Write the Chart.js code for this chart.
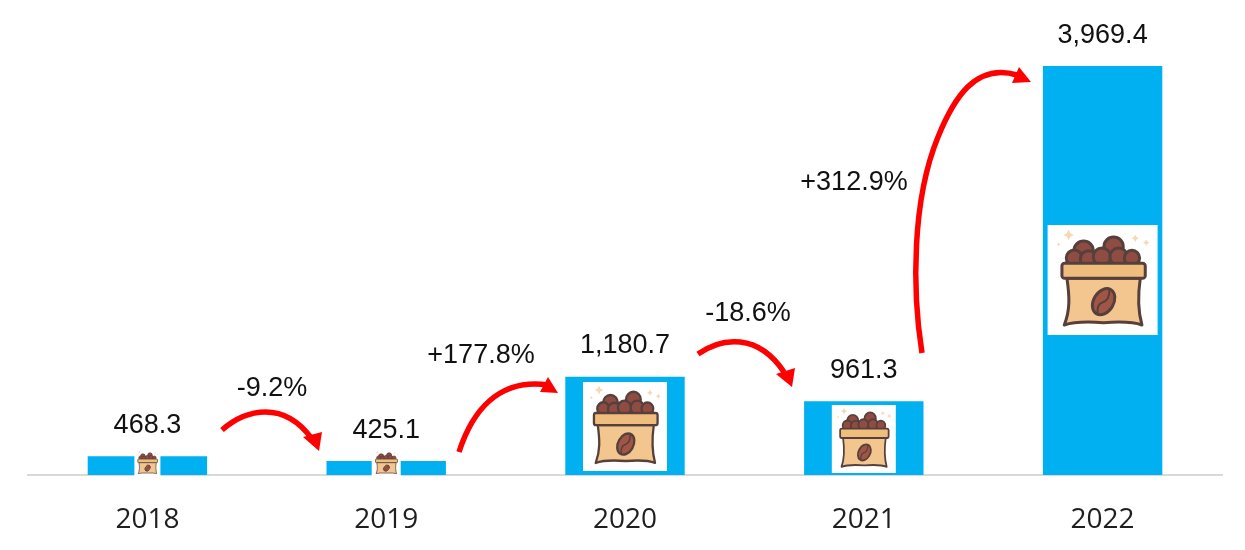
<!DOCTYPE html>
<html><head><meta charset="utf-8">
<style>html,body{margin:0;padding:0;background:#fff}#wrap{width:1245px;height:550px}</style>
<script src="https://cdn.jsdelivr.net/npm/chart.js@4"></script>
</head><body><div id="wrap"><canvas id="c" width="1245" height="550"></canvas></div>
<script>
const categories = ['2018','2019','2020','2021','2022'];
const values = [468.3,425.1,1180.7,961.3,3969.4];
const valueLabels = ['468.3','425.1','1,180.7','961.3','3,969.4'];
const changeLabels = ['-9.2%','+177.8%','-18.6%','+312.9%'];
const changeAnchors = [[272,389],[481,356],[748,314],[854,183]];
const iconBoxes = [[26,26,12],[29,26,12],[84,89,48.5],[64,68,36],[110,110,195]];
const arrowPaths = [
 {start:[222,430],curves:[[246,409,284,400,312,439]],head:[[303,437],[322,432],[319,451]]},
 {start:[459,452],curves:[[472,412,498,378,548,385]],head:[[548,377],[558,393],[540,392]]},
 {start:[698,354],curves:[[722,337,758,333,784,372]],head:[[776,374],[795,368],[792,387]]},
 {start:[922,353],curves:[[912,290,912,200,938,137],[953,100,975,62,1017,75]],head:[[1019,67],[1031,82],[1012,83]]}
];
function sack(g,x,y,w,h){
  g.save();g.fillStyle='#fff';g.fillRect(x,y,w,h);g.translate(x,y);g.scale(w/330,h/330);g.translate(-52,-45);
  g.lineJoin='round';const dark='#57403c';
  g.fillStyle='#f8d8b4';
  [[115,75,16],[315,85,11],[348,98,10],[85,103,6]].forEach(s=>{g.beginPath();
    g.moveTo(s[0],s[1]-s[2]);g.lineTo(s[0]+s[2]*.35,s[1]-s[2]*.35);g.lineTo(s[0]+s[2],s[1]);g.lineTo(s[0]+s[2]*.35,s[1]+s[2]*.35);
    g.lineTo(s[0],s[1]+s[2]);g.lineTo(s[0]-s[2]*.35,s[1]+s[2]*.35);g.lineTo(s[0]-s[2],s[1]);g.lineTo(s[0]-s[2]*.35,s[1]-s[2]*.35);g.closePath();g.fill();});
  g.strokeStyle=dark;g.lineWidth=9;
  [[160,122,29],[250,110,29],[132,144,24],[175,147,25],[215,140,26],[265,140,26],[305,144,23]].forEach(b=>{g.beginPath();g.arc(b[0],b[1],b[2],0,7);g.fillStyle='#8f4c42';g.fill();g.stroke();});
  g.beginPath();g.moveTo(110,205);g.lineTo(330,205);g.bezierCurveTo(322,260,322,300,335,345);
  g.quadraticCurveTo(300,332,220,338);g.quadraticCurveTo(140,332,102,345);g.bezierCurveTo(120,300,118,260,110,205);g.closePath();
  g.fillStyle='#f2c68e';g.fill();g.stroke();
  g.beginPath();g.roundRect(95,160,250,45,8);g.fillStyle='#efbd7d';g.fill();g.stroke();
  g.save();g.translate(220,275);g.rotate(0.55);g.beginPath();g.ellipse(0,0,30,42,0,0,7);g.fillStyle='#a05646';g.fill();g.stroke();
  g.lineWidth=6;g.beginPath();g.moveTo(-4,-40);g.quadraticCurveTo(14,-12,-2,4);g.quadraticCurveTo(-14,18,4,40);g.stroke();g.restore();
  g.restore();
}
const overlay={id:'overlay',afterDatasetsDraw(ch){
  const g=ch.ctx,xs=ch.scales.x,ys=ch.scales.y,base=ys.getPixelForValue(ys.min);
  g.save();
  categories.forEach((c,i)=>{const b=iconBoxes[i],cx=xs.getPixelForValue(i);
    sack(g,cx-b[0]/2,base-b[2]-b[1]/2,b[0],b[1]);});
  g.fillStyle='#111';g.font='27px "Liberation Sans"';g.textAlign='center';g.textBaseline='middle';
  values.forEach((v,i)=>g.fillText(valueLabels[i],xs.getPixelForValue(i),ys.getPixelForValue(v)-31));
  changeLabels.forEach((t,i)=>g.fillText(t,changeAnchors[i][0],changeAnchors[i][1]));
  g.strokeStyle='#ff0000';g.fillStyle='#ff0000';g.lineWidth=5.5;g.lineCap='butt';
  arrowPaths.forEach(a=>{g.beginPath();g.moveTo(a.start[0],a.start[1]);a.curves.forEach(k=>g.bezierCurveTo(...k));g.stroke();
    g.beginPath();g.moveTo(...a.head[0]);g.lineTo(...a.head[1]);g.lineTo(...a.head[2]);g.closePath();g.fill();});
  g.restore();
}};
new Chart(document.getElementById('c'),{type:'bar',
 data:{labels:categories,datasets:[{data:values,backgroundColor:'#00b0f0',barPercentage:1,categoryPercentage:0.5}]},
 options:{responsive:false,animation:false,
  layout:{padding:{left:28,right:23,top:7,bottom:0}},
  plugins:{legend:{display:false},tooltip:{enabled:false}},
  scales:{
   x:{grid:{display:false,drawTicks:false},border:{color:'#d9d9d9',width:2},
      ticks:{color:'#1f1f1f',font:{family:'Open Sans',size:28},padding:28,maxRotation:0},
      afterFit(s){s.height=75;}},
   y:{display:false,min:300,max:4500}
  }},plugins:[overlay]});
</script></body></html>
